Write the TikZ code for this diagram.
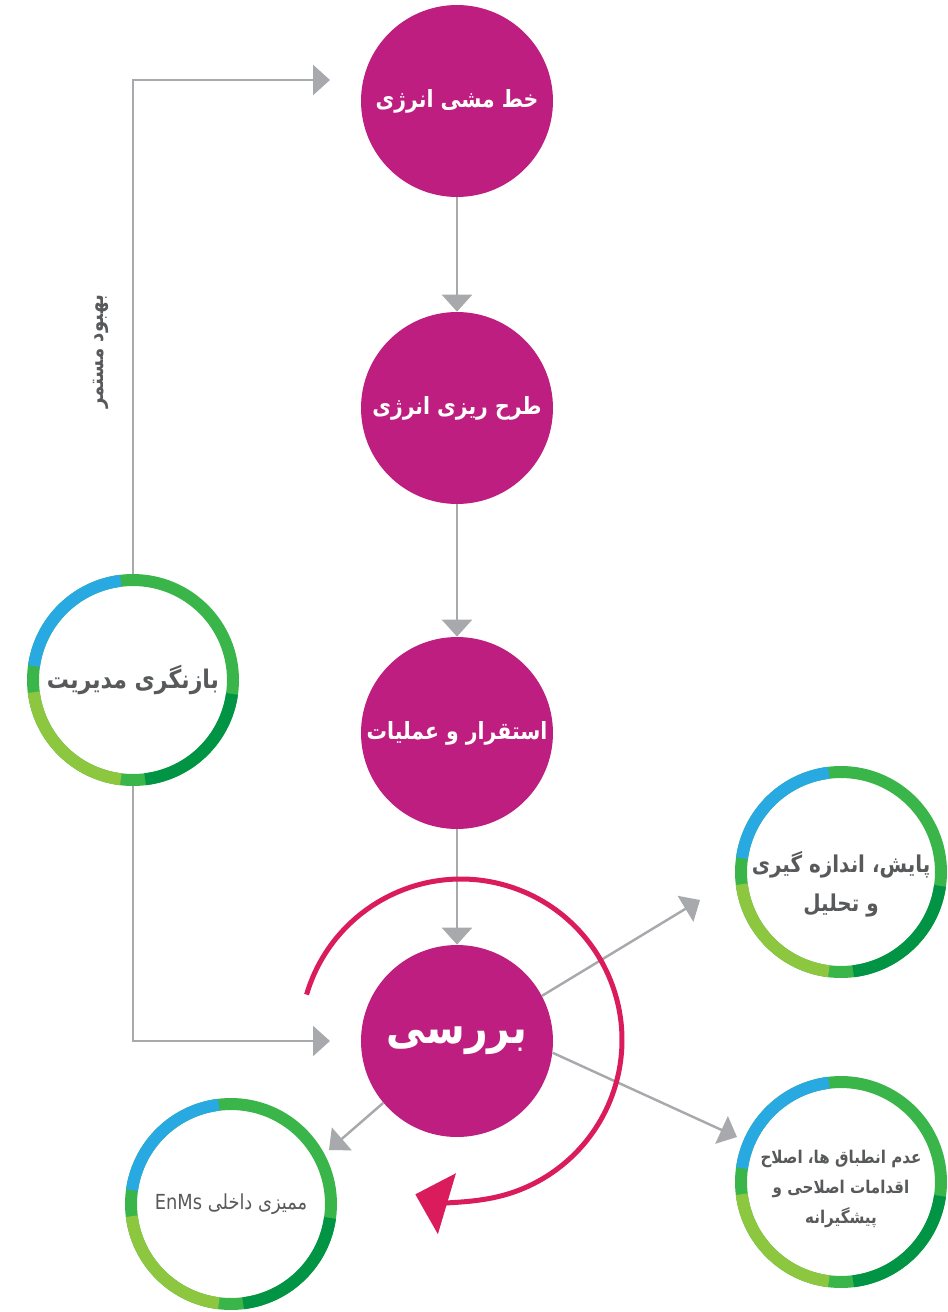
\documentclass[tikz,border=0pt]{standalone}
\usepackage{fontspec}
\usetikzlibrary{arrows.meta}
\newfontfamily\fa[Script=Arabic, FakeStretch=0.86]{DejaVu Sans}
\TeXXeTstate=1
\definecolor{mag}{RGB}{189,30,128}
\definecolor{lgray}{RGB}{167,169,172}
\definecolor{tgray}{RGB}{88,89,91}
\definecolor{rred}{RGB}{218,28,92}
\definecolor{rblue}{RGB}{41,169,225}
\definecolor{rgreen}{RGB}{58,181,74}
\definecolor{rlgreen}{RGB}{141,198,63}
\definecolor{rdgreen}{RGB}{0,148,68}
\newcommand\ringarcs[1]{%
  \draw[rgreen, line width=0.24cm] (#1.center) circle[radius=2cm];
  \draw[rblue, line width=0.24cm] ([shift={(97:2cm)}]#1.center) arc[start angle=97, end angle=172, radius=2cm];
  \draw[rlgreen, line width=0.24cm] ([shift={(187:2cm)}]#1.center) arc[start angle=187, end angle=263, radius=2cm];
  \draw[rdgreen, line width=0.24cm] ([shift={(277:2cm)}]#1.center) arc[start angle=277, end angle=352, radius=2cm];
}
\begin{document}
\begin{tikzpicture}[x=0.02cm, y=-0.02cm,
  mcirc/.style={circle, fill=mag, minimum size=3.84cm, inner sep=0pt, text=white, align=center,
    font=\fa\bfseries\fontsize{13.5}{16}\selectfont},
  ringnode/.style={circle, minimum size=4.24cm, inner sep=0pt, text=tgray, align=center},
  garrow/.style={draw=lgray, line width=1.4pt, -{Triangle[width=0.6cm, length=0.34cm]}},
  gline/.style={draw=lgray, line width=1.4pt}]
\useasboundingbox (0,0) rectangle (947,1312);
% magenta circles
\node[mcirc] (c1) at (457,101) {\beginR خط مشی انرژی\endR};
\node[mcirc] (c2) at (457,408) {\beginR طرح ریزی انرژی\endR};
\node[mcirc] (c3) at (457,733) {\beginR استقرار و عملیات\endR};
\node[mcirc, font=\fa\bfseries\fontsize{26}{30}\selectfont] (c4) at (457,1041) {\beginR بررسی\endR};
% ring nodes
\node[ringnode] (lr) at (133,680) {};
\node[ringnode] (rt) at (841,872) {};
\node[ringnode] (lb) at (231,1204) {};
\node[ringnode] (rb) at (841,1182) {};
\ringarcs{lr}
\ringarcs{rt}
\ringarcs{lb}
\ringarcs{rb}
\node[text=tgray, font=\fa\bfseries\fontsize{14.6}{16}\selectfont] (lrt) at (lr.center) {\beginR بازنگری مدیریت\endR};
\node[text=tgray, align=center, font=\fa\bfseries\fontsize{13.2}{22}\selectfont] (rtt) at (841,884) {\beginR پایش، اندازه گیری\endR\\\beginR و تحلیل\endR};
\node[text=tgray, font=\fa\fontsize{11.8}{13}\selectfont] (lbt) at (lb.center) {\beginR ممیزی داخلی \beginL EnMs\endL\endR};
\node[text=tgray, align=center, font=\fa\bfseries\fontsize{10}{17}\selectfont] (rbt) at (841,1189) {\beginR عدم انطباق ها، اصلاح\endR\\\beginR اقدامات اصلاحی و\endR\\\beginR پیشگیرانه\endR};
% coordinates
\coordinate (t1) at (330,80);
\coordinate (t2) at (330,1041);
\coordinate (a1) at (700,900);
\coordinate (a2) at (737,1137);
\coordinate (a3) at (329,1150);
% gray connectors
\draw[garrow] (c1.south) -- (c2.north);
\draw[garrow] (c2.south) -- (c3.north);
\draw[garrow] (c3.south) -- (c4.north);
\draw[garrow] (lr.north) |- (t1);
\draw[garrow] (lr.south) |- (t2);
\draw[garrow] (c4.28) -- (a1);
\draw[garrow] (c4.-7) -- (a2);
\draw[garrow] (c4.-140) -- (a3);
% vertical label
\node[text=tgray, rotate=90, font=\fa\bfseries\fontsize{12}{13}\selectfont] (lbl) at (101,352) {\beginR بهبود مستمر\endR};
% red cycle arrow
\coordinate (rc) at (461,1040);
\draw[rred, line width=0.1cm, -{Triangle[width=1.25cm, length=0.66cm]}] ([shift={(163.6:3.22cm)}]rc) arc[start angle=163.6, end angle=-106.5, radius=3.22cm];
\end{tikzpicture}
\end{document}
